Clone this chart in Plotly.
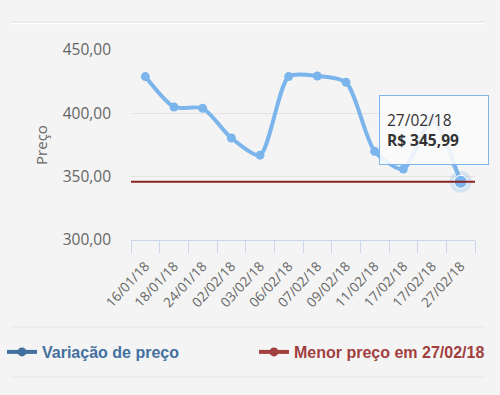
import plotly.graph_objects as go

dates = ['16/01/18', '18/01/18', '24/01/18', '02/02/18', '03/02/18', '06/02/18',
         '07/02/18', '09/02/18', '11/02/18', '17/02/18', '17/02/18', '27/02/18']
prices = [429, 405, 404, 380.5, 367, 429, 429.5, 424.5, 370, 356, 395, 345.99]
min_price = 345.99
min_date = '27/02/18'
y_ticks = [300, 350, 400, 450]

xs = list(range(len(dates)))

L, R, T, B = 131, 25, 50, 155
W, H = 500, 395
PW, PH = W - L - R, H - T - B

def px(x):
    return (x - L) / PW

def py(y):
    return (H - B - y) / PH

BG = '#f4f4f4'
LINE = '#7cb5ec'
RED = '#8b2323'
LEG_BLUE = '#44709f'
LEG_RED = '#a23f3f'

fig = go.Figure()

fig.add_trace(go.Scatter(
    x=xs, y=prices, mode='lines+markers',
    line=dict(color=LINE, width=4, shape='spline', smoothing=0.7),
    marker=dict(color=LINE, size=9),
    showlegend=False, hoverinfo='skip'))

# highlighted last point (halo)
fig.add_trace(go.Scatter(
    x=[xs[-1]], y=[prices[-1]], mode='markers',
    marker=dict(color='rgba(124,181,236,0.25)', size=22),
    showlegend=False, hoverinfo='skip'))
fig.add_trace(go.Scatter(
    x=[xs[-1]], y=[prices[-1]], mode='markers',
    marker=dict(color=LINE, size=13, line=dict(color='white', width=1)),
    showlegend=False, hoverinfo='skip'))

# legend entries
fig.add_trace(go.Scatter(
    x=[None], y=[None], mode='lines+markers',
    line=dict(color=LEG_BLUE, width=4), marker=dict(color=LEG_BLUE, size=9),
    name="<b>Variação de preço</b>", legend='legend'))
fig.add_trace(go.Scatter(
    x=[None], y=[None], mode='lines+markers',
    line=dict(color=LEG_RED, width=4), marker=dict(color=LEG_RED, size=9),
    name="<b>Menor preço em " + min_date + "</b>", legend='legend2'))

shapes = [
    dict(type='line', xref='x domain', yref='y', x0=0, x1=1, y0=min_price, y1=min_price,
         line=dict(color=RED, width=2), layer='above'),
    dict(type='line', xref='paper', yref='paper', x0=px(10), x1=px(485), y0=py(22), y1=py(22),
         line=dict(color='#dedede', width=1)),
    dict(type='line', xref='paper', yref='paper', x0=px(10), x1=px(485), y0=py(23.5), y1=py(23.5),
         line=dict(color='#ffffff', width=1.5)),
    dict(type='line', xref='paper', yref='paper', x0=px(10), x1=px(485), y0=py(327), y1=py(327),
         line=dict(color='#e6e6e6', width=1)),
    dict(type='line', xref='paper', yref='paper', x0=px(10), x1=px(485), y0=py(377), y1=py(377),
         line=dict(color='#e6e6e6', width=1)),
]

annotations = [
    dict(x=xs[-1], y=min_price, xref='x', yref='y',
         text=min_date + "<br><b>R$ " + f"{min_price:.2f}".replace('.', ',') + "</b>",
         showarrow=True, ax=-27, ay=-52, arrowhead=0, arrowwidth=1, arrowcolor=LINE,
         standoff=9, align='left', width=94, height=54, borderpad=7,
         bgcolor='rgba(250,250,250,0.88)', bordercolor=LINE, borderwidth=1,
         font=dict(family='Open Sans', size=15.5, color='#333333')),
]

fig.update_layout(
    width=W, height=H,
    margin=dict(l=L, r=R, t=T, b=B, pad=0, autoexpand=False),
    paper_bgcolor=BG, plot_bgcolor=BG,
    separators=',.',
    font=dict(family='Open Sans', color='#666666'),
    shapes=shapes, annotations=annotations,
    xaxis=dict(
        range=[-0.5, len(dates) - 0.5],
        tickmode='array', tickvals=xs, ticktext=dates, tickangle=-47,
        ticks='', showgrid=False, zeroline=False, ticklabelstandoff=12,
        showline=True, linecolor='#ccd6eb', linewidth=1,
        tickfont=dict(family='Open Sans', size=13.5, color='#666666'),
        minor=dict(tickmode='linear', tick0=-0.5, dtick=1, ticks='outside',
                   ticklen=12, tickcolor='#ccd6eb', tickwidth=1, showgrid=False),
        fixedrange=True, automargin=False,
    ),
    yaxis=dict(
        range=[300, 450], tickvals=y_ticks, tickformat='.2f',
        showgrid=True, gridcolor='#e3e3e3', gridwidth=1, zeroline=False,
        ticks='', ticklabelstandoff=19,
        tickfont=dict(family='Open Sans', size=15.5, color='#666666'),
        title=dict(text='Preço', font=dict(family='Open Sans', size=15, color='#666666'), standoff=11),
        fixedrange=True, automargin=False,
    ),
    legend=dict(orientation='h', x=px(2), y=py(352), xanchor='left', yanchor='middle',
                bgcolor='rgba(0,0,0,0)', font=dict(family='Liberation Sans', size=16, color=LEG_BLUE)),
    legend2=dict(orientation='h', x=px(254), y=py(352), xanchor='left', yanchor='middle',
                 bgcolor='rgba(0,0,0,0)', font=dict(family='Liberation Sans', size=16, color=LEG_RED)),
    showlegend=True,
)

fig.write_html("out.html", config={'displayModeBar': False},
               post_script="document.body.style.margin='0px';")
